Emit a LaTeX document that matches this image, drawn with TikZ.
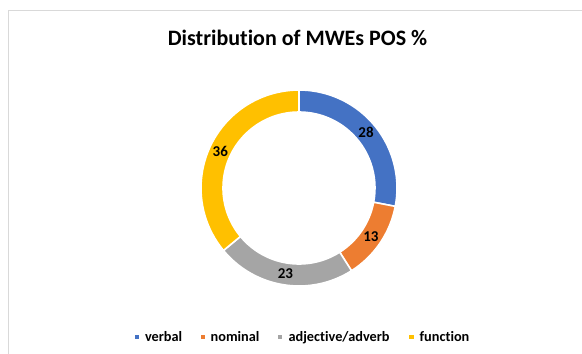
\documentclass[tikz,border=0pt]{standalone}
\usepackage{fontspec}
\setmainfont[Ligatures={NoCommon}]{Carlito}
\usetikzlibrary{calc}
\definecolor{cverbal}{HTML}{4472C4}
\definecolor{cnominal}{HTML}{ED7D31}
\definecolor{cadj}{HTML}{A5A5A5}
\definecolor{cfunc}{HTML}{FFC000}
\definecolor{frame}{HTML}{D9D9D9}
\tikzset{
  slice/.style={draw=white, line width=1.6pt},
  datalabel/.style={font=\fontsize{15}{17}\selectfont\bfseries, inner sep=0pt},
  legtext/.style={font=\fontsize{14.3}{16}\selectfont\bfseries, anchor=base west, inner sep=0pt},
  legmark/.style={minimum size=4.5pt, inner sep=0pt, draw=none},
}
\newcommand{\ringslice}[3]{%
  \fill[#3, slice] (#1:98) arc[start angle=#1, end angle=#2, radius=98]
    -- (#2:76) arc[start angle=#2, end angle=#1, radius=76] -- cycle;}
\begin{document}
\begin{tikzpicture}[x=1pt,y=1pt]
\useasboundingbox (0,0) rectangle (582,-354);
\fill[white] (0,0) rectangle (582,-354);
\draw[frame, line width=1.5pt] (8.3,-370) -- (8.3,-10.3) -- (600,-10.3);
\node[font=\fontsize{22}{25}\selectfont\bfseries, anchor=base, inner sep=0pt] (title) at (297.5,-45) {Distribution of MWEs POS \%};
\begin{scope}[shift={(299,-188)}]
  \ringslice{90}{-10.8}{cverbal}
  \ringslice{-10.8}{-57.6}{cnominal}
  \ringslice{-57.6}{-140.4}{cadj}
  \ringslice{-140.4}{-270}{cfunc}
  \node[datalabel] (l28) at (39.6:87) {28};
  \node[datalabel] (l13) at (-34.2:87) {13};
  \node[datalabel] (l23) at (-99:87) {23};
  \node[datalabel] (l36) at (154.8:87) {36};
\end{scope}
\node[legmark, fill=cverbal] (m1) at (136.8,-336.8) {};
\node[legtext] (t1) at (144.8,-341.5) {verbal};
\node[legmark, fill=cnominal] (m2) at (202.9,-336.8) {};
\node[legtext] (t2) at (210.5,-341.5) {nominal};
\node[legmark, fill=cadj] (m3) at (279.9,-336.8) {};
\node[legtext] (t3) at (288.4,-341.5) {adjective/adverb};
\node[legmark, fill=cfunc] (m4) at (411.6,-336.8) {};
\node[legtext] (t4) at (419.5,-341.5) {function};
\end{tikzpicture}
\end{document}
